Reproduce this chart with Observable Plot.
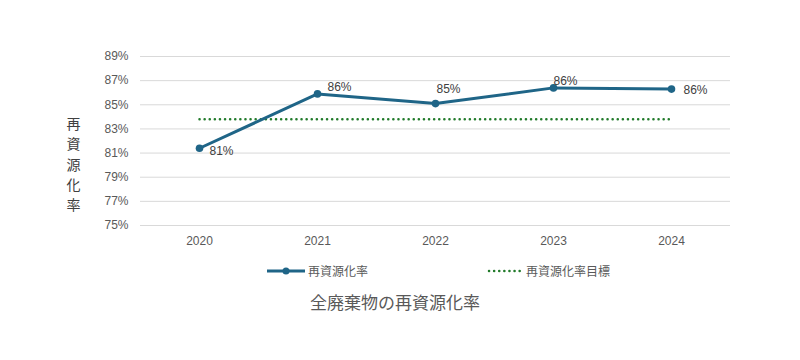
<!DOCTYPE html>
<html><head><meta charset="utf-8">
<script src="https://cdn.jsdelivr.net/npm/d3@7"></script>
<script src="https://cdn.jsdelivr.net/npm/@observablehq/plot@0.6"></script>
<style>
body{margin:0;background:#fff;font-family:"Liberation Sans","Noto Sans CJK JP",sans-serif;}
#wrap{position:relative;width:800px;height:360px;}
.leg{position:absolute;font-size:12px;color:#595959;display:flex;align-items:center;font-family:"Noto Sans CJK JP",sans-serif;}
#title{position:absolute;left:0;width:790px;text-align:center;top:289px;font-size:17px;color:#595959;font-family:"Noto Sans CJK JP",sans-serif;}
</style></head>
<body><div id="wrap"></div>
<script>
const years = ["2020","2021","2022","2023","2024"];
const rate = [81.4, 85.9, 85.1, 86.4, 86.3];
const target = [83.8, 83.8, 83.8, 83.8, 83.8];
const yTicks = [75, 77, 79, 81, 83, 85, 87, 89];
const seriesNames = ["再資源化率", "再資源化率目標"];
const axisTitle = "再資源化率";
const chartTitle = "全廃棄物の再資源化率";

const lineColor = "#1f6587";
const targetColor = "#217a2a";
const data = years.map((y, i) => ({year: y, rate: rate[i], target: target[i]}));
const labelOffsets = {"2020": [10, 3], "2021": [10, -7], "2022": [1, -14], "2023": [0, -7], "2024": [12, 1]};

const chart = Plot.plot({
  width: 800, height: 262,
  marginTop: 56, marginBottom: 37, marginLeft: 140, marginRight: 70,
  style: {fontFamily: "Liberation Sans, Arial, sans-serif", fontSize: "12px", color: "#595959"},
  x: {type: "point", domain: years, padding: 0.5, label: null, tickSize: 0, tickPadding: 11},
  y: {domain: [75, 89], ticks: yTicks, tickFormat: d => d + "%", label: null, tickSize: 0, tickPadding: 12},
  marks: [
    Plot.gridY(yTicks, {stroke: "#d9d9d9", strokeOpacity: 1}),
    Plot.line(data, {x: "year", y: "target", stroke: targetColor, strokeWidth: 2.5, strokeDasharray: "0.1 5", strokeLinecap: "round"}),
    Plot.line(data, {x: "year", y: "rate", stroke: lineColor, strokeWidth: 3}),
    Plot.dot(data, {x: "year", y: "rate", fill: lineColor, r: 3.8}),
    ...data.map(d => Plot.text([d], {x: "year", y: "rate", text: v => Math.round(v.rate) + "%", textAnchor: "start",
      dx: labelOffsets[d.year][0], dy: labelOffsets[d.year][1], fill: "#404040", fontSize: 12})),
    Plot.text([axisTitle.split("").join("\n")], {frameAnchor: "left", dx: -74, dy: 22, lineHeight: 1.45, fontSize: 14, fill: "#404040", fontFamily: "Noto Sans CJK JP, sans-serif", textAnchor: "start"})
  ]
});
const wrap = document.getElementById("wrap");
wrap.appendChild(chart);

const l1 = document.createElement("div");
l1.className = "leg"; l1.style.left = "266px"; l1.style.top = "262px";
l1.innerHTML = `<svg width="40" height="14"><line x1="1" x2="39" y1="7" y2="7" stroke="${lineColor}" stroke-width="3"/><circle cx="20" cy="7" r="3.5" fill="${lineColor}"/></svg><span style="margin-left:2px">${seriesNames[0]}</span>`;
wrap.appendChild(l1);
const l2 = document.createElement("div");
l2.className = "leg"; l2.style.left = "487px"; l2.style.top = "262px";
l2.innerHTML = `<svg width="36" height="14"><line x1="2" x2="34" y1="7" y2="7" stroke="${targetColor}" stroke-width="2.5" stroke-dasharray="0.1 5" stroke-linecap="round"/></svg><span style="margin-left:3px">${seriesNames[1]}</span>`;
wrap.appendChild(l2);
const t = document.createElement("div");
t.id = "title"; t.textContent = chartTitle;
wrap.appendChild(t);
</script></body></html>
